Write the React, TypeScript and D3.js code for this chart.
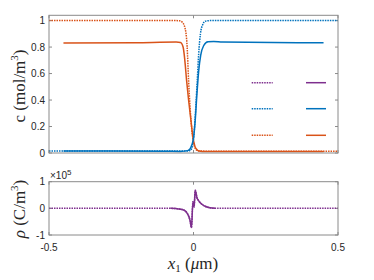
import React from "react";
import * as d3 from "d3";

// concentration profiles, c (mol/m^3) against x1 (um)
const bulkOrangeX = [-0.5, -0.2, -0.06, -0.048, -0.04, -0.03, -0.022, -0.017, -0.012, -0.006, 0, 0.006, 0.012, 0.02, 0.05, 0.2, 0.5];
const bulkOrangeY = [1.0, 1.0, 1.0, 0.998, 0.99, 0.95, 0.8, 0.55, 0.35, 0.18, 0.08, 0.035, 0.02, 0.015, 0.014, 0.014, 0.014];

const bulkBlueX = [-0.5, -0.2, -0.02, -0.01, -0.004, 0.002, 0.008, 0.013, 0.018, 0.024, 0.032, 0.04, 0.06, 0.2, 0.5];
const bulkBlueY = [0.015, 0.015, 0.015, 0.02, 0.05, 0.15, 0.35, 0.55, 0.75, 0.9, 0.97, 0.995, 1.0, 1.0, 1.0];

const orangeX = [-0.45, -0.2, -0.06, -0.045, -0.036, -0.03, -0.024, -0.017, -0.009, -0.002, 0.005, 0.012, 0.02, 0.03, 0.1, 0.45];
const orangeY = [0.83, 0.833, 0.838, 0.835, 0.8, 0.7, 0.55, 0.4, 0.25, 0.12, 0.05, 0.025, 0.015, 0.012, 0.012, 0.012];

const blueX = [-0.45, -0.1, -0.045, -0.02, -0.012, -0.006, 0, 0.006, 0.012, 0.018, 0.025, 0.035, 0.05, 0.07, 0.1, 0.45];
const blueY = [0.015, 0.013, 0.012, 0.018, 0.03, 0.06, 0.11, 0.25, 0.45, 0.62, 0.74, 0.81, 0.84, 0.842, 0.838, 0.832];

// charge density, rho (x1e5 C/m^3)
const rhoX = [-0.5, -0.08, -0.06, -0.036, -0.021, -0.012, -0.007, -0.002, 0.002, 0.006, 0.012, 0.017, 0.026, 0.04, 0.057, 0.075, 0.5];
const rhoY = [0, 0, -0.01, -0.05, -0.2, -0.45, -0.72, 0.25, 0.05, 0.68, 0.4, 0.3, 0.18, 0.08, 0.02, 0, 0];

const cTicks = [0, 0.2, 0.4, 0.6, 0.8, 1];
const rhoTicks = [-1, 0, 1];
const xTicks = [-0.5, 0, 0.5];

const ORANGE = "#D95319";
const BLUE = "#0072BD";
const PURPLE = "#7E2F8E";
const AXIS = "#8a8a8a";
const TEXT = "#262626";

const zip = (xs: number[], ys: number[]) => xs.map((x, i) => [x, ys[i]] as [number, number]);
const clip = (xs: number[], ys: number[], lo: number, hi: number) =>
  zip(xs, ys).filter((d) => d[0] >= lo && d[0] <= hi);

export default function App() {
  const left = 49;
  const right = 338;
  const x = d3.scaleLinear([-0.5, 0.5], [left, right]);
  const yTop = d3.scaleLinear([0, 1.04], [153, 15.3]);
  const yBot = d3.scaleLinear([-1, 1], [235, 181.7]);

  const lineTop = d3
    .line<[number, number]>()
    .x((d) => x(d[0]))
    .y((d) => yTop(d[1]))
    .curve(d3.curveMonotoneX);
  const lineBot = d3
    .line<[number, number]>()
    .x((d) => x(d[0]))
    .y((d) => yBot(d[1]))
    .curve(d3.curveMonotoneX);

  const dotted = { fill: "none", strokeWidth: 1.5, strokeDasharray: "1.5 1" };
  const solid = { fill: "none", strokeWidth: 1.5 };

  // legend rows (empty labels in the original)
  const legend = [
    { color: PURPLE, y: 82.7 },
    { color: BLUE, y: 108.7 },
    { color: ORANGE, y: 135.3 },
  ];

  const tickFont = { fontFamily: "Liberation Sans, Arial, sans-serif", fontSize: 10, fill: TEXT };
  const labelFont = { fontFamily: "Liberation Serif, DejaVu Serif, serif", fontSize: 17, fill: TEXT };

  const [t0, t1] = yTop.range();
  const [b0, b1] = yBot.range();

  return (
    <svg width={374} height={280} style={{ position: "absolute", left: 0, top: 0, background: "#fff" }}>
      {/* top axes */}
      {cTicks.map((t) => (
        <g key={"ct" + t}>
          <line x1={left} x2={left + 3} y1={yTop(t)} y2={yTop(t)} stroke={AXIS} />
          <line x1={right} x2={right - 3} y1={yTop(t)} y2={yTop(t)} stroke={AXIS} />
          <text x={left - 4} y={yTop(t)} dy="0.35em" textAnchor="end" {...tickFont}>
            {t}
          </text>
        </g>
      ))}
      {xTicks.map((t) => (
        <g key={"xt" + t}>
          <line x1={x(t)} x2={x(t)} y1={t0} y2={t0 - 3} stroke={AXIS} />
          <line x1={x(t)} x2={x(t)} y1={t1} y2={t1 + 3} stroke={AXIS} />
        </g>
      ))}

      <path d={lineTop(zip(bulkOrangeX, bulkOrangeY)) || ""} stroke={ORANGE} {...dotted} />
      <path d={lineTop(zip(bulkBlueX, bulkBlueY)) || ""} stroke={BLUE} {...dotted} />
      <path d={lineTop(zip(orangeX, orangeY)) || ""} stroke={ORANGE} {...solid} />
      <path d={lineTop(zip(blueX, blueY)) || ""} stroke={BLUE} {...solid} />

      {legend.map((l) => (
        <g key={l.color}>
          <line x1={251.7} x2={272.7} y1={l.y} y2={l.y} stroke={l.color} {...dotted} />
          <line x1={306} x2={326} y1={l.y} y2={l.y} stroke={l.color} {...solid} />
        </g>
      ))}

      <rect x={left} y={t1} width={right - left} height={t0 - t1} fill="none" stroke={AXIS} />

      {/* bottom axes */}
      {rhoTicks.map((t) => (
        <g key={"rt" + t}>
          <line x1={left} x2={left + 3} y1={yBot(t)} y2={yBot(t)} stroke={AXIS} />
          <line x1={right} x2={right - 3} y1={yBot(t)} y2={yBot(t)} stroke={AXIS} />
          <text x={left - 4} y={yBot(t)} dy="0.35em" textAnchor="end" {...tickFont}>
            {t}
          </text>
        </g>
      ))}
      {xTicks.map((t) => (
        <g key={"bt" + t}>
          <line x1={x(t)} x2={x(t)} y1={b0} y2={b0 - 3} stroke={AXIS} />
          <line x1={x(t)} x2={x(t)} y1={b1} y2={b1 + 3} stroke={AXIS} />
          <text x={x(t)} y={b0 + 16} textAnchor="middle" {...tickFont}>
            {t}
          </text>
        </g>
      ))}
      <text x={left + 1} y={b1 - 3} {...tickFont}>
        ×10<tspan dy={-4} fontSize={8}>5</tspan>
      </text>

      <path d={lineBot(zip(rhoX, rhoY)) || ""} stroke={PURPLE} {...dotted} />
      <path d={lineBot(clip(rhoX, rhoY, -0.45, 0.45)) || ""} stroke={PURPLE} {...solid} />

      <rect x={left} y={b1} width={right - left} height={b0 - b1} fill="none" stroke={AXIS} />

      {/* axis labels */}
      <text transform="translate(25,86) rotate(-90)" textAnchor="middle" {...labelFont}>
        c (mol/m<tspan dy={-7} fontSize={11}>3</tspan>
        <tspan dy={7}>)</tspan>
      </text>
      <text transform="translate(25,209) rotate(-90)" textAnchor="middle" {...labelFont}>
        <tspan fontStyle="italic">ρ</tspan> (C/m<tspan dy={-7} fontSize={11}>3</tspan>
        <tspan dy={7}>)</tspan>
      </text>
      <text x={193} y={269} textAnchor="middle" {...labelFont}>
        <tspan fontStyle="italic">x</tspan>
        <tspan dy={3} fontSize={11}>1</tspan>
        <tspan dy={-3}> (</tspan>
        <tspan fontStyle="italic">μ</tspan>m)
      </text>
    </svg>
  );
}
